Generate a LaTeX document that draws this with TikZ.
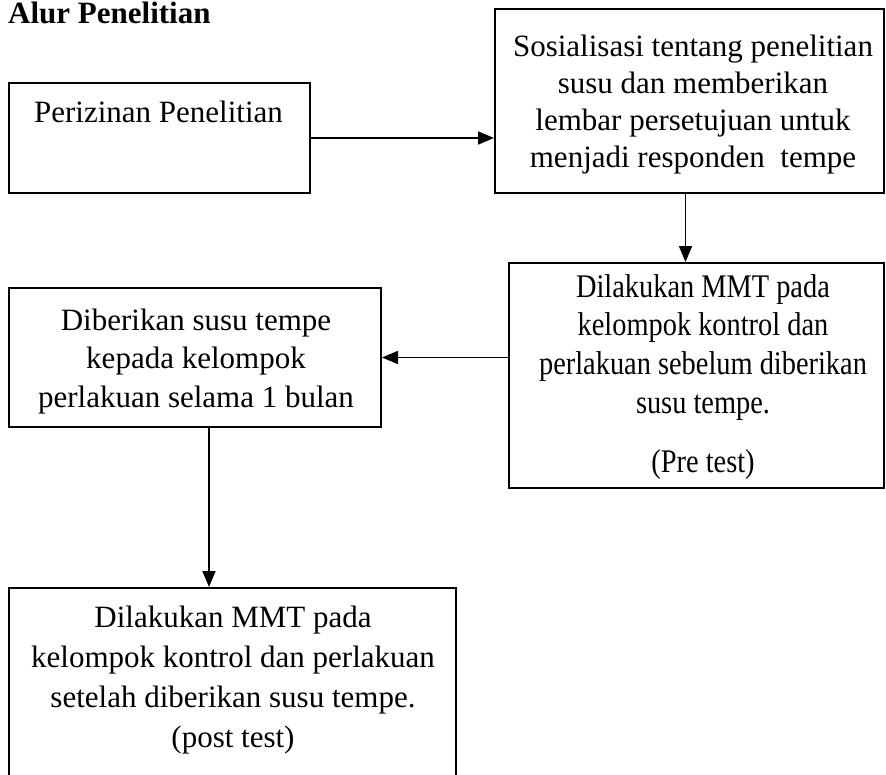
\documentclass[tikz,border=0pt]{standalone}
\usepackage{fontspec}
\setmainfont{Liberation Serif}
\newfontfamily\condfont[FakeStretch=0.86]{Liberation Serif}
\usetikzlibrary{arrows.meta}
\begin{document}
\begin{tikzpicture}[x=1pt,y=-1pt,
  box/.style={draw, line width=2pt, rectangle, inner sep=0pt, anchor=north west},
  txt/.style={align=center, inner sep=0pt, anchor=north},
  conn/.style={line width=1.7pt, -{Triangle[length=16pt,width=13pt]}}]
\useasboundingbox (0,0) rectangle (886,774);
\clip (0,0) rectangle (886,774);
% title
\node[anchor=base west, inner sep=0pt, font=\fontsize{31}{37}\selectfont\bfseries] (title) at (8,23) {Alur Penelitian};
% boxes
\node[box, minimum width=301pt, minimum height=110pt] (b1) at (8,82) {};
\node[box, minimum width=389pt, minimum height=184pt] (b2) at (494,8) {};
\node[box, minimum width=375pt, minimum height=225pt] (b3) at (508,262) {};
\node[box, minimum width=372pt, minimum height=139pt] (b4) at (8,287) {};
\node[box, minimum width=447pt, minimum height=210pt] (b5) at (8,587) {};
% texts
\node[anchor=base, inner sep=0pt, font=\fontsize{31}{37}\selectfont] (t1) at (158.5,122) {Perizinan Penelitian};
\node[txt, font=\fontsize{31}{37.2}\selectfont] (t2) at (693,31)
  {\rule{0pt}{25pt}Sosialisasi tentang penelitian\\susu dan memberikan\\lembar persetujuan untuk\\menjadi responden\ \ tempe};
\node[txt, font=\condfont\fontsize{33}{38.7}\selectfont] (t3) at (703,272)
  {\rule{0pt}{25pt}Dilakukan MMT pada\\kelompok kontrol dan\\perlakuan sebelum diberikan\\susu tempe.\\[20pt](Pre test)};
\node[txt, font=\fontsize{31}{38.5}\selectfont] (t4) at (196,305)
  {\rule{0pt}{25pt}Diberikan susu tempe\\kepada kelompok\\perlakuan selama 1 bulan};
\node[txt, font=\fontsize{31}{40}\selectfont] (t5) at (233,602)
  {\rule{0pt}{25pt}Dilakukan MMT pada\\kelompok kontrol dan perlakuan\\setelah diberikan susu tempe.\\(post test)};
% connectors
\draw[conn] (b1.east) -- (b1.east -| b2.west);
\draw[conn] ([xshift=-4pt]b2.south) -- ([xshift=-4pt]b2.south |- b3.north);
\draw[conn] (b3.west |- b4.east) -- (b4.east);
\draw[conn] ([xshift=14pt]b4.south) -- ([xshift=14pt]b4.south |- b5.north);
\end{tikzpicture}
\end{document}
